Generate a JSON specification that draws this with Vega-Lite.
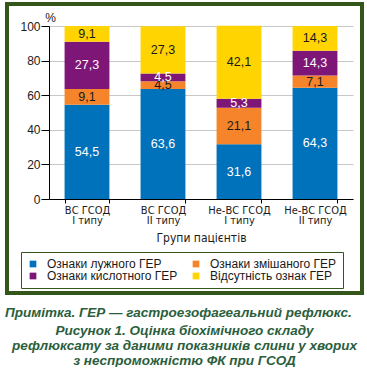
{
  "$schema": "https://vega.github.io/schema/vega-lite/v6.json",
  "padding": {"left": 5, "top": 2, "right": 0, "bottom": 0},
  "background": "white",
  "config": {
    "locale": {"number": {"decimal": ",", "thousands": " ", "grouping": [3], "currency": ["", ""]}},
    "view": {"stroke": null},
    "font": "Liberation Sans",
    "concat": {"spacing": 0},
    "axisY": {
      "values": [0, 20, 40, 60, 80, 100],
      "labelOverlap": false,
      "grid": true,
      "gridColor": "#c8c8c8",
      "tickSize": 8,
      "tickColor": "#000",
      "domainColor": "#000",
      "labelPadding": 1,
      "labelFontSize": 12,
      "labelColor": "#1a1a1a",
      "titleAngle": 0,
      "titleX": 1,
      "titleY": -5,
      "titleAlign": "center",
      "titleBaseline": "alphabetic",
      "titleFontSize": 12,
      "titleFontWeight": "normal",
      "titleColor": "#1a1a1a"
    },
    "axisX": {
      "labelAngle": 0,
      "labelFont": "DejaVu Sans Condensed, Liberation Sans Narrow, sans-serif",
      "labelFontSize": 11,
      "labelLineHeight": 10,
      "labelColor": "#1a1a1a",
      "labelPadding": 1,
      "labelOverlap": false,
      "tickBand": "extent",
      "tickSize": 4,
      "tickColor": "#000",
      "domainColor": "#000",
      "titleFont": "DejaVu Sans Condensed, Liberation Sans Narrow, sans-serif",
      "titleFontSize": 12,
      "titleFontWeight": "normal",
      "titleColor": "#1a1a1a",
      "titlePadding": 7,
      "grid": false
    }
  },
  "datasets": {
    "reflux": [
      {"group": "ВС ГСОД|I типу", "cat": "Ознаки лужного ГЕР", "value": 54.5},
      {"group": "ВС ГСОД|I типу", "cat": "Ознаки змішаного ГЕР", "value": 9.1},
      {"group": "ВС ГСОД|I типу", "cat": "Ознаки кислотного ГЕР", "value": 27.3},
      {"group": "ВС ГСОД|I типу", "cat": "Відсутність ознак ГЕР", "value": 9.1},
      {"group": "ВС ГСОД|II типу", "cat": "Ознаки лужного ГЕР", "value": 63.6},
      {"group": "ВС ГСОД|II типу", "cat": "Ознаки змішаного ГЕР", "value": 4.5},
      {"group": "ВС ГСОД|II типу", "cat": "Ознаки кислотного ГЕР", "value": 4.5},
      {"group": "ВС ГСОД|II типу", "cat": "Відсутність ознак ГЕР", "value": 27.3},
      {"group": "Не-ВС ГСОД|I типу", "cat": "Ознаки лужного ГЕР", "value": 31.6},
      {"group": "Не-ВС ГСОД|I типу", "cat": "Ознаки змішаного ГЕР", "value": 21.1},
      {"group": "Не-ВС ГСОД|I типу", "cat": "Ознаки кислотного ГЕР", "value": 5.3},
      {"group": "Не-ВС ГСОД|I типу", "cat": "Відсутність ознак ГЕР", "value": 42.1},
      {"group": "Не-ВС ГСОД|II типу", "cat": "Ознаки лужного ГЕР", "value": 64.3},
      {"group": "Не-ВС ГСОД|II типу", "cat": "Ознаки змішаного ГЕР", "value": 7.1},
      {"group": "Не-ВС ГСОД|II типу", "cat": "Ознаки кислотного ГЕР", "value": 14.3},
      {"group": "Не-ВС ГСОД|II типу", "cat": "Відсутність ознак ГЕР", "value": 14.3}
    ]
  },
  "title": {
    "text": ["Рисунок 1.  Оцінка біохімічного складу", "рефлюксату за даними показників слини у хворих", "з неспроможністю ФК при ГСОД"],
    "orient": "bottom", "anchor": "middle", "frame": "bounds",
    "font": "Liberation Sans", "fontSize": 13.5, "fontStyle": "italic", "fontWeight": "bold",
    "color": "#2a5e3c", "lineHeight": 15, "offset": 4
  },
  "vconcat": [
    {
      "width": 304,
      "height": 173,
      "title": {
        "text": "Примітка. ГЕР — гастроезофагеальний рефлюкс.",
        "orient": "bottom", "anchor": "start", "frame": "bounds",
        "font": "Liberation Sans", "fontSize": 13.5, "fontStyle": "italic", "fontWeight": "bold",
        "color": "#2a5e3c", "offset": 11
      },
      "layer": [
        {
          "data": {"values": [{}]},
          "mark": {"type": "rect", "fill": null, "stroke": "#35561b", "strokeWidth": 4},
          "encoding": {
            "x": {"value": -42},
            "x2": {"value": 313},
            "y": {"value": -22},
            "y2": {"value": 267}
          }
        },
        {
          "data": {"name": "reflux"},
          "transform": [
            {"calculate": "indexof(['Ознаки лужного ГЕР','Ознаки змішаного ГЕР','Ознаки кислотного ГЕР','Відсутність ознак ГЕР'], datum.cat)", "as": "k"},
            {"stack": "value", "groupby": ["group"], "sort": [{"field": "k"}], "as": ["y0", "y1"]}
          ],
          "mark": {"type": "bar"},
          "encoding": {
            "x": {
              "field": "group", "type": "nominal", "sort": null,
              "scale": {"paddingInner": 0.41, "paddingOuter": 0.205},
              "axis": {"title": "Групи пацієнтів", "labelExpr": "split(datum.label, '|')"}
            },
            "y": {
              "field": "y1", "type": "quantitative",
              "scale": {"domain": [0, 100]},
              "axis": {"title": "%"}
            },
            "y2": {"field": "y0"},
            "color": {
              "field": "cat", "type": "nominal",
              "scale": {
                "domain": ["Ознаки лужного ГЕР", "Ознаки змішаного ГЕР", "Ознаки кислотного ГЕР", "Відсутність ознак ГЕР"],
                "range": ["#0071bb", "#f5842a", "#7d1677", "#ffd400"]
              },
              "legend": {
                "title": null,
                "orient": "none",
                "direction": "horizontal",
                "legendX": -28,
                "legendY": 226,
                "columns": 2,
                "columnPadding": 12,
                "rowPadding": 0,
                "padding": 6,
                "strokeColor": "#35561b",
                "fillColor": "white",
                "symbolType": "square",
                "symbolSize": 45,
                "symbolStrokeWidth": 0,
                "labelFontSize": 12,
                "labelColor": "#1a1a1a",
                "labelOffset": 8
              }
            }
          }
        },
        {
          "data": {"name": "reflux"},
          "transform": [
            {"calculate": "indexof(['Ознаки лужного ГЕР','Ознаки змішаного ГЕР','Ознаки кислотного ГЕР','Відсутність ознак ГЕР'], datum.cat)", "as": "k"},
            {"stack": "value", "groupby": ["group"], "sort": [{"field": "k"}], "as": ["y0", "y1"]},
            {"calculate": "(datum.y0 + datum.y1) / 2", "as": "mid"}
          ],
          "mark": {"type": "text", "fontSize": 12.5, "baseline": "middle"},
          "encoding": {
            "x": {"field": "group", "type": "nominal", "sort": null, "axis": {"title": "Групи пацієнтів", "labelExpr": "split(datum.label, '|')"}},
            "y": {"field": "mid", "type": "quantitative", "axis": {"title": "%"}},
            "text": {"field": "value", "type": "quantitative", "format": ".1f"},
            "color": {
              "condition": {"test": "datum.k === 0 || datum.k === 2", "value": "white"},
              "value": "#1a1a1a"
            }
          }
        }
      ]
    }
  ]
}
